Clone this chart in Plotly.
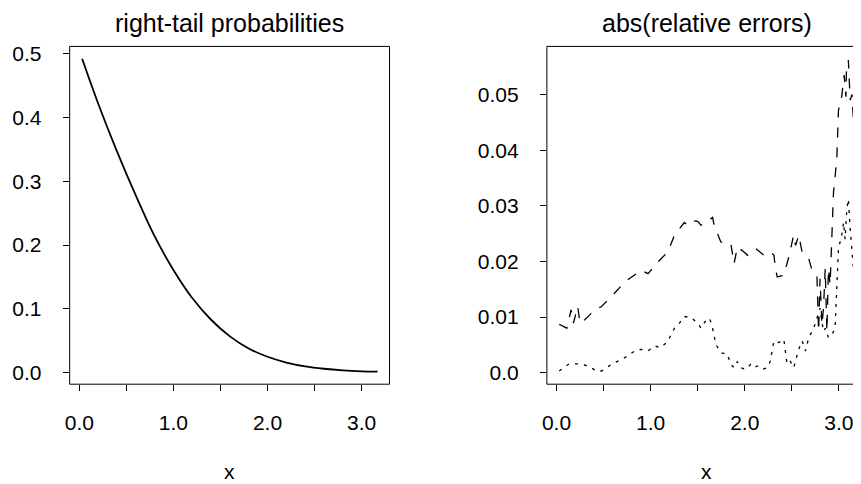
import plotly.graph_objects as go

# ---- data ----
prob_x = [0.03, 0.2, 0.4, 0.6, 0.8, 1.0, 1.2, 1.4, 1.6, 1.8, 2.0, 2.2, 2.4, 2.6, 2.8, 3.0, 3.17]
prob_y = [0.492, 0.422, 0.347, 0.278, 0.214, 0.161, 0.117, 0.083, 0.057, 0.038, 0.025,
          0.016, 0.010, 0.0062, 0.0037, 0.0022, 0.0016]

dash_x = [0.028, 0.109, 0.155, 0.18, 0.225, 0.25, 0.30, 0.408, 0.478, 0.584, 0.725, 0.90, 0.972,
          1.077, 1.183, 1.253, 1.358, 1.393, 1.447, 1.50, 1.535, 1.588, 1.658, 1.675, 1.746,
          1.852, 1.887, 1.922, 1.992, 2.03, 2.116, 2.204, 2.274, 2.31, 2.327, 2.345, 2.415,
          2.468, 2.52, 2.54, 2.574, 2.609, 2.68, 2.715, 2.767, 2.785, 2.80, 2.82, 2.837, 2.855,
          2.873, 2.89, 2.907, 2.943, 2.978, 2.996, 3.03, 3.056, 3.075, 3.08, 3.101, 3.12, 3.14, 3.165]
dash_y = [0.0087, 0.0080, 0.0113, 0.0089, 0.0119, 0.0089, 0.0095, 0.0113, 0.0119, 0.0137, 0.0163,
          0.0184, 0.0178, 0.0199, 0.0217, 0.0247, 0.0270, 0.0265, 0.0273, 0.0272, 0.0265, 0.0270,
          0.0279, 0.0265, 0.0235, 0.0232, 0.0196, 0.0226, 0.0217, 0.0211, 0.0223, 0.0211, 0.0217,
          0.0211, 0.0187, 0.0172, 0.0175, 0.0208, 0.0247, 0.0229, 0.0247, 0.0217, 0.0205, 0.0184,
          0.0175, 0.0074, 0.0169, 0.0086, 0.0116, 0.0187, 0.0074, 0.0187, 0.0158, 0.0324, 0.0383,
          0.0472, 0.0496, 0.0535, 0.0496, 0.0540, 0.0562, 0.0490, 0.0500, 0.0419]

dot_x = [0.028, 0.127, 0.232, 0.338, 0.426, 0.478, 0.584, 0.725, 0.83, 0.90, 0.97, 1.042, 1.11,
         1.183, 1.253, 1.306, 1.358, 1.43, 1.50, 1.535, 1.58, 1.623, 1.65, 1.693, 1.746, 1.817,
         1.85, 1.887, 1.92, 1.957, 2.01, 2.063, 2.10, 2.133, 2.186, 2.24, 2.27, 2.31, 2.36, 2.415,
         2.45, 2.485, 2.52, 2.574, 2.61, 2.645, 2.68, 2.733, 2.767, 2.80, 2.82, 2.837, 2.855, 2.89,
         2.925, 2.96, 2.996, 3.03, 3.05, 3.066, 3.085, 3.101, 3.12, 3.14, 3.165]
dot_y = [0.0003, 0.0015, 0.0016, 0.0012, 0.0003, 0.0003, 0.0015, 0.0027, 0.0039, 0.0042, 0.0039,
         0.0048, 0.0045, 0.0057, 0.0080, 0.0089, 0.0101, 0.0099, 0.0089, 0.0080, 0.0092, 0.0098,
         0.0087, 0.0051, 0.0036, 0.0033, 0.0015, 0.0009, 0.0020, 0.0009, 0.0006, 0.0015, 0.0009,
         0.0012, 0.0006, 0.0009, 0.0020, 0.0057, 0.0054, 0.0060, 0.0015, 0.0020, 0.0009, 0.0042,
         0.0057, 0.0039, 0.0063, 0.0080, 0.0098, 0.0116, 0.0092, 0.0074, 0.0080, 0.0063, 0.0068,
         0.0080, 0.0223, 0.0247, 0.0270, 0.0240, 0.0294, 0.0312, 0.0259, 0.0223, 0.0166]

x_tickvals = [0, 0.5, 1.0, 1.5, 2.0, 2.5, 3.0]
x_ticktext = ["0.0", "", "1.0", "", "2.0", "", "3.0"]
yl_tickvals = [0, 0.1, 0.2, 0.3, 0.4, 0.5]
yl_ticktext = ["0.0", "0.1", "0.2", "0.3", "0.4", "0.5"]
yr_tickvals = [0, 0.01, 0.02, 0.03, 0.04, 0.05]
yr_ticktext = ["0.0", "0.01", "0.02", "0.03", "0.04", "0.05"]

titles = ["right-tail probabilities", "abs(relative errors)"]
xlabel = "x"

# ---- layout geometry (screen pixels; page body has an 8px margin) ----
W, H = 861, 484
OX, OY = 8, 8
L_left, L_right = 65.0 - OX, 386.7 - OX
R_left, R_right = 545.0 - OX, 866.7 - OX
top_px, bot_px = 42.7 - OY, 383.3 - OY
FONT = "Liberation Sans, Arial, Helvetica, sans-serif"

fig = go.Figure()
fig.add_trace(go.Scatter(x=prob_x, y=prob_y, mode="lines", line=dict(color="black", width=1.8, shape="spline"),
                         xaxis="x", yaxis="y", showlegend=False, hoverinfo="skip"))
fig.add_trace(go.Scatter(x=dash_x, y=dash_y, mode="lines", line=dict(color="black", width=1.3, dash="10px,10px"),
                         xaxis="x2", yaxis="y2", showlegend=False, hoverinfo="skip"))
fig.add_trace(go.Scatter(x=dot_x, y=dot_y, mode="lines", line=dict(color="black", width=1.3, dash="3px,6px"),
                         xaxis="x2", yaxis="y2", showlegend=False, hoverinfo="skip"))

ydom = [1 - bot_px / H, 1 - top_px / H]
common_ax = dict(showgrid=False, zeroline=False, showline=False, ticks="outside", ticklen=6,
                 tickwidth=1, tickcolor="black", tickfont=dict(family=FONT, size=21, color="black"))

fig.update_layout(
    width=W, height=H, margin=dict(l=0, r=0, t=0, b=0),
    paper_bgcolor="white", plot_bgcolor="white",
    xaxis=dict(domain=[L_left / W, L_right / W], range=[-0.1025, 3.296], anchor="y",
               tickmode="array", tickvals=x_tickvals, ticktext=x_ticktext, ticklabelstandoff=14, **common_ax),
    yaxis=dict(domain=ydom, range=[-0.018, 0.5114], anchor="x",
               tickmode="array", tickvals=yl_tickvals, ticktext=yl_ticktext, ticklabelstandoff=17, **common_ax),
    xaxis2=dict(domain=[R_left / W, R_right / W], range=[-0.1025, 3.296], anchor="y2",
                tickmode="array", tickvals=x_tickvals, ticktext=x_ticktext, ticklabelstandoff=14, **common_ax),
    yaxis2=dict(domain=ydom, range=[-0.00207, 0.05865], anchor="x2",
                tickmode="array", tickvals=yr_tickvals, ticktext=yr_ticktext, ticklabelstandoff=17, **common_ax),
)

# R-style boxes
for x0, x1 in [(L_left, L_right), (R_left, R_right)]:
    fig.add_shape(type="rect", xref="paper", yref="paper", x0=x0 / W, x1=x1 / W, y0=ydom[0], y1=ydom[1],
                  line=dict(color="black", width=1))

centers = [(L_left + L_right) / 2, (R_left + R_right) / 2]
for cx, t in zip(centers, titles):
    fig.add_annotation(text=t, x=cx / W, y=1 - (19 - OY) / H, xref="paper", yref="paper", showarrow=False,
                       xanchor="center", yanchor="middle", font=dict(family=FONT, size=25, color="black"))
    fig.add_annotation(text=xlabel, x=cx / W, y=1 - (484 - OY) / H, xref="paper", yref="paper", showarrow=False,
                       xanchor="center", yanchor="bottom", borderpad=0,
                       font=dict(family=FONT, size=21, color="black"))

fig.write_html("out.html")
